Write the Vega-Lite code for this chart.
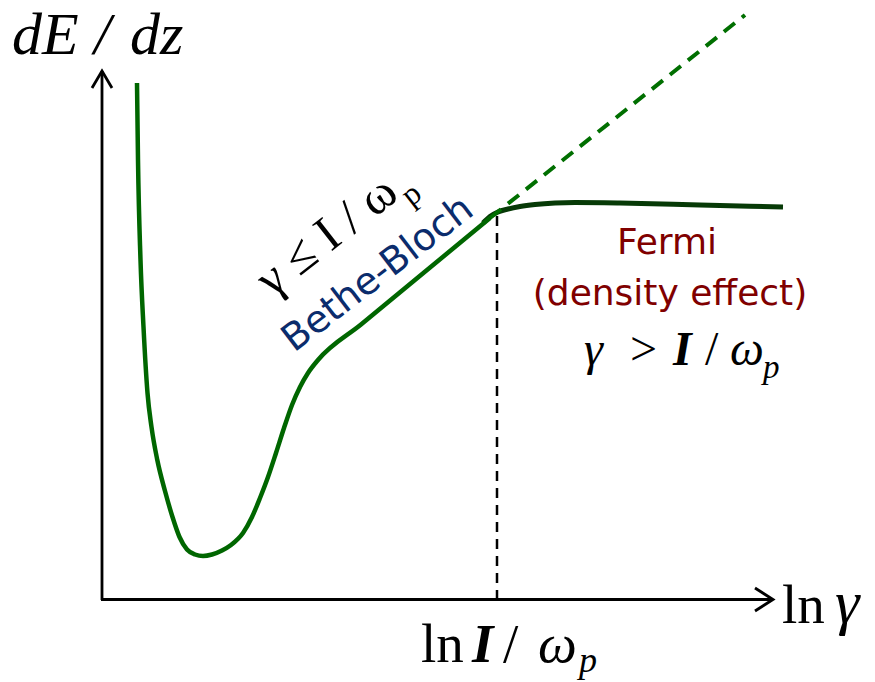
{
  "$schema": "https://vega.github.io/schema/vega-lite/v6.json",
  "width": 875,
  "height": 682,
  "padding": 0,
  "autosize": {"type": "fit", "contains": "padding"},
  "background": "white",
  "config": {"view": {"stroke": null}},
  "datasets": {
    "lines": [
      {"s": "axisY", "o": 1, "x": 102, "y": 600},
      {"s": "axisY", "o": 2, "x": 102, "y": 71},
      {"s": "axisX", "o": 1, "x": 101, "y": 599.5},
      {"s": "axisX", "o": 2, "x": 772, "y": 599.5},
      {"s": "arrowY", "o": 1, "x": 92, "y": 88},
      {"s": "arrowY", "o": 2, "x": 102, "y": 71},
      {"s": "arrowY", "o": 3, "x": 112, "y": 88},
      {"s": "arrowX", "o": 1, "x": 755, "y": 588},
      {"s": "arrowX", "o": 2, "x": 773, "y": 599.5},
      {"s": "arrowX", "o": 3, "x": 755, "y": 611},
      {"s": "marker", "o": 1, "x": 497, "y": 216},
      {"s": "marker", "o": 2, "x": 497, "y": 598},
      {"s": "extrap", "o": 1, "x": 490, "y": 218},
      {"s": "extrap", "o": 2, "x": 745, "y": 15},
      {"s": "fermi", "o": 1, "x": 483, "y": 223},
      {"s": "fermi", "o": 2, "x": 490, "y": 216.5},
      {"s": "fermi", "o": 3, "x": 498, "y": 212},
      {"s": "fermi", "o": 4, "x": 508, "y": 209},
      {"s": "fermi", "o": 5, "x": 520, "y": 206.5},
      {"s": "fermi", "o": 6, "x": 535, "y": 204.5},
      {"s": "fermi", "o": 7, "x": 555, "y": 203},
      {"s": "fermi", "o": 8, "x": 575, "y": 202.5},
      {"s": "fermi", "o": 9, "x": 620, "y": 203},
      {"s": "fermi", "o": 10, "x": 700, "y": 205},
      {"s": "fermi", "o": 11, "x": 783, "y": 207},
      {"s": "curve", "o": 1, "x": 137, "y": 83},
      {"s": "curve", "o": 2, "x": 138, "y": 160},
      {"s": "curve", "o": 3, "x": 140.5, "y": 260},
      {"s": "curve", "o": 4, "x": 143.5, "y": 327},
      {"s": "curve", "o": 5, "x": 147.5, "y": 393},
      {"s": "curve", "o": 6, "x": 151.5, "y": 427},
      {"s": "curve", "o": 7, "x": 157.3, "y": 460},
      {"s": "curve", "o": 8, "x": 165, "y": 491},
      {"s": "curve", "o": 9, "x": 172.5, "y": 517},
      {"s": "curve", "o": 10, "x": 179.5, "y": 537},
      {"s": "curve", "o": 11, "x": 187, "y": 549.5},
      {"s": "curve", "o": 12, "x": 195, "y": 554.5},
      {"s": "curve", "o": 13, "x": 203, "y": 556},
      {"s": "curve", "o": 14, "x": 212, "y": 554.5},
      {"s": "curve", "o": 15, "x": 222, "y": 550.5},
      {"s": "curve", "o": 16, "x": 231, "y": 545},
      {"s": "curve", "o": 17, "x": 243, "y": 533},
      {"s": "curve", "o": 18, "x": 252, "y": 517},
      {"s": "curve", "o": 19, "x": 260, "y": 498},
      {"s": "curve", "o": 20, "x": 268, "y": 477},
      {"s": "curve", "o": 21, "x": 276, "y": 453},
      {"s": "curve", "o": 22, "x": 284, "y": 428},
      {"s": "curve", "o": 23, "x": 292, "y": 405},
      {"s": "curve", "o": 24, "x": 300, "y": 387},
      {"s": "curve", "o": 25, "x": 308, "y": 373},
      {"s": "curve", "o": 26, "x": 318, "y": 360},
      {"s": "curve", "o": 27, "x": 361, "y": 324.5},
      {"s": "curve", "o": 28, "x": 404, "y": 289},
      {"s": "curve", "o": 29, "x": 447, "y": 253.5},
      {"s": "curve", "o": 30, "x": 490, "y": 218}
    ],
    "labels": [
      {"g": "A", "x": 12, "y": 54, "t": "dE"},
      {"g": "A", "x": 94, "y": 54, "t": "/"},
      {"g": "A", "x": 130, "y": 54, "t": "dz"},
      {"g": "B", "x": 782, "y": 623, "t": "ln"},
      {"g": "B", "x": 421, "y": 662, "t": "ln"},
      {"g": "B", "x": 503, "y": 662, "t": "/"},
      {"g": "C", "x": 835, "y": 623, "t": "γ"},
      {"g": "D", "x": 538, "y": 662, "t": "ω"},
      {"g": "E", "x": 472, "y": 662, "t": "I"},
      {"g": "F", "x": 579, "y": 672, "t": "p"},
      {"g": "G1", "x": 584, "y": 365, "t": "γ"},
      {"g": "G1", "x": 730, "y": 365, "t": "ω"},
      {"g": "G2", "x": 630, "y": 365, "t": ">"},
      {"g": "G2", "x": 705, "y": 365, "t": "/"},
      {"g": "G3", "x": 673, "y": 365, "t": "I"},
      {"g": "G4", "x": 763, "y": 378, "t": "p"},
      {"g": "H1", "x": 272, "y": 298, "t": "γ ≤ I / ω"},
      {"g": "H2", "x": 411, "y": 207, "t": "p"},
      {"g": "I", "x": 294, "y": 353, "t": "Bethe-Bloch"},
      {"g": "J", "x": 667, "y": 254, "t": "Fermi"},
      {"g": "J", "x": 670, "y": 305, "t": "(density effect)"}
    ]
  },
  "encoding": {
    "x": {"field": "x", "type": "quantitative", "axis": null, "scale": {"domain": [0, 875], "nice": false, "zero": false}},
    "y": {"field": "y", "type": "quantitative", "axis": null, "scale": {"domain": [0, 682], "nice": false, "zero": false, "reverse": true}}
  },
  "layer": [
    {
      "data": {"name": "lines"},
      "transform": [{"filter": "indexof(['axisX','axisY','arrowX','arrowY'], datum.s) >= 0"}],
      "mark": {"type": "line", "color": "black", "strokeWidth": 2.8, "strokeJoin": "miter"},
      "encoding": {"detail": {"field": "s"}, "order": {"field": "o", "type": "quantitative"}}
    },
    {
      "data": {"name": "lines"},
      "transform": [{"filter": "datum.s == 'marker'"}],
      "mark": {"type": "line", "color": "black", "strokeWidth": 2.5, "strokeDash": [10, 7]},
      "encoding": {"order": {"field": "o", "type": "quantitative"}}
    },
    {
      "data": {"name": "lines"},
      "transform": [{"filter": "datum.s == 'fermi'"}],
      "mark": {"type": "line", "color": "#073a07", "strokeWidth": 5, "interpolate": "monotone"},
      "encoding": {"order": {"field": "o", "type": "quantitative"}}
    },
    {
      "data": {"name": "lines"},
      "transform": [{"filter": "datum.s == 'extrap'"}],
      "mark": {"type": "line", "color": "#006f00", "strokeWidth": 4, "strokeDash": [14, 9]},
      "encoding": {"order": {"field": "o", "type": "quantitative"}}
    },
    {
      "data": {"name": "lines"},
      "transform": [{"filter": "datum.s == 'curve'"}],
      "mark": {"type": "line", "color": "#006600", "strokeWidth": 4.5, "interpolate": "monotone"},
      "encoding": {"order": {"field": "o", "type": "quantitative"}}
    },
    {
      "data": {"name": "labels"},
      "transform": [{"filter": "datum.g == 'A'"}],
      "mark": {"type": "text", "font": "Liberation Serif", "fontStyle": "italic", "fontSize": 60, "align": "left", "baseline": "alphabetic", "color": "black"},
      "encoding": {"text": {"field": "t"}}
    },
    {
      "data": {"name": "labels"},
      "transform": [{"filter": "datum.g == 'B'"}],
      "mark": {"type": "text", "font": "Liberation Serif", "fontSize": 55, "align": "left", "baseline": "alphabetic", "color": "black"},
      "encoding": {"text": {"field": "t"}}
    },
    {
      "data": {"name": "labels"},
      "transform": [{"filter": "datum.g == 'C'"}],
      "mark": {"type": "text", "font": "Liberation Serif", "fontStyle": "italic", "fontSize": 62, "align": "left", "baseline": "alphabetic", "color": "black"},
      "encoding": {"text": {"field": "t"}}
    },
    {
      "data": {"name": "labels"},
      "transform": [{"filter": "datum.g == 'D'"}],
      "mark": {"type": "text", "font": "Liberation Serif", "fontStyle": "italic", "fontSize": 55, "align": "left", "baseline": "alphabetic", "color": "black"},
      "encoding": {"text": {"field": "t"}}
    },
    {
      "data": {"name": "labels"},
      "transform": [{"filter": "datum.g == 'E'"}],
      "mark": {"type": "text", "font": "Liberation Serif", "fontStyle": "italic", "fontWeight": "bold", "fontSize": 55, "align": "left", "baseline": "alphabetic", "color": "black"},
      "encoding": {"text": {"field": "t"}}
    },
    {
      "data": {"name": "labels"},
      "transform": [{"filter": "datum.g == 'F'"}],
      "mark": {"type": "text", "font": "Liberation Serif", "fontStyle": "italic", "fontSize": 36, "align": "left", "baseline": "alphabetic", "color": "black"},
      "encoding": {"text": {"field": "t"}}
    },
    {
      "data": {"name": "labels"},
      "transform": [{"filter": "datum.g == 'G1'"}],
      "mark": {"type": "text", "font": "Liberation Serif", "fontStyle": "italic", "fontSize": 48, "align": "left", "baseline": "alphabetic", "color": "black"},
      "encoding": {"text": {"field": "t"}}
    },
    {
      "data": {"name": "labels"},
      "transform": [{"filter": "datum.g == 'G2'"}],
      "mark": {"type": "text", "font": "Liberation Serif", "fontSize": 48, "align": "left", "baseline": "alphabetic", "color": "black"},
      "encoding": {"text": {"field": "t"}}
    },
    {
      "data": {"name": "labels"},
      "transform": [{"filter": "datum.g == 'G3'"}],
      "mark": {"type": "text", "font": "Liberation Serif", "fontStyle": "italic", "fontWeight": "bold", "fontSize": 48, "align": "left", "baseline": "alphabetic", "color": "black"},
      "encoding": {"text": {"field": "t"}}
    },
    {
      "data": {"name": "labels"},
      "transform": [{"filter": "datum.g == 'G4'"}],
      "mark": {"type": "text", "font": "Liberation Serif", "fontStyle": "italic", "fontSize": 33, "align": "left", "baseline": "alphabetic", "color": "black"},
      "encoding": {"text": {"field": "t"}}
    },
    {
      "data": {"name": "labels"},
      "transform": [{"filter": "datum.g == 'H1'"}],
      "mark": {"type": "text", "font": "Liberation Serif", "fontSize": 50, "align": "left", "baseline": "alphabetic", "angle": -38, "color": "black"},
      "encoding": {"text": {"field": "t"}}
    },
    {
      "data": {"name": "labels"},
      "transform": [{"filter": "datum.g == 'H2'"}],
      "mark": {"type": "text", "font": "Liberation Serif", "fontSize": 32, "align": "left", "baseline": "alphabetic", "angle": -38, "color": "black"},
      "encoding": {"text": {"field": "t"}}
    },
    {
      "data": {"name": "labels"},
      "transform": [{"filter": "datum.g == 'I'"}],
      "mark": {"type": "text", "font": "DejaVu Sans", "fontSize": 38, "align": "left", "baseline": "alphabetic", "angle": -37.5, "color": "#0b2c6c"},
      "encoding": {"text": {"field": "t"}}
    },
    {
      "data": {"name": "labels"},
      "transform": [{"filter": "datum.g == 'J'"}],
      "mark": {"type": "text", "font": "DejaVu Sans", "fontSize": 36, "align": "center", "baseline": "alphabetic", "color": "#800000"},
      "encoding": {"text": {"field": "t"}}
    }
  ]
}
